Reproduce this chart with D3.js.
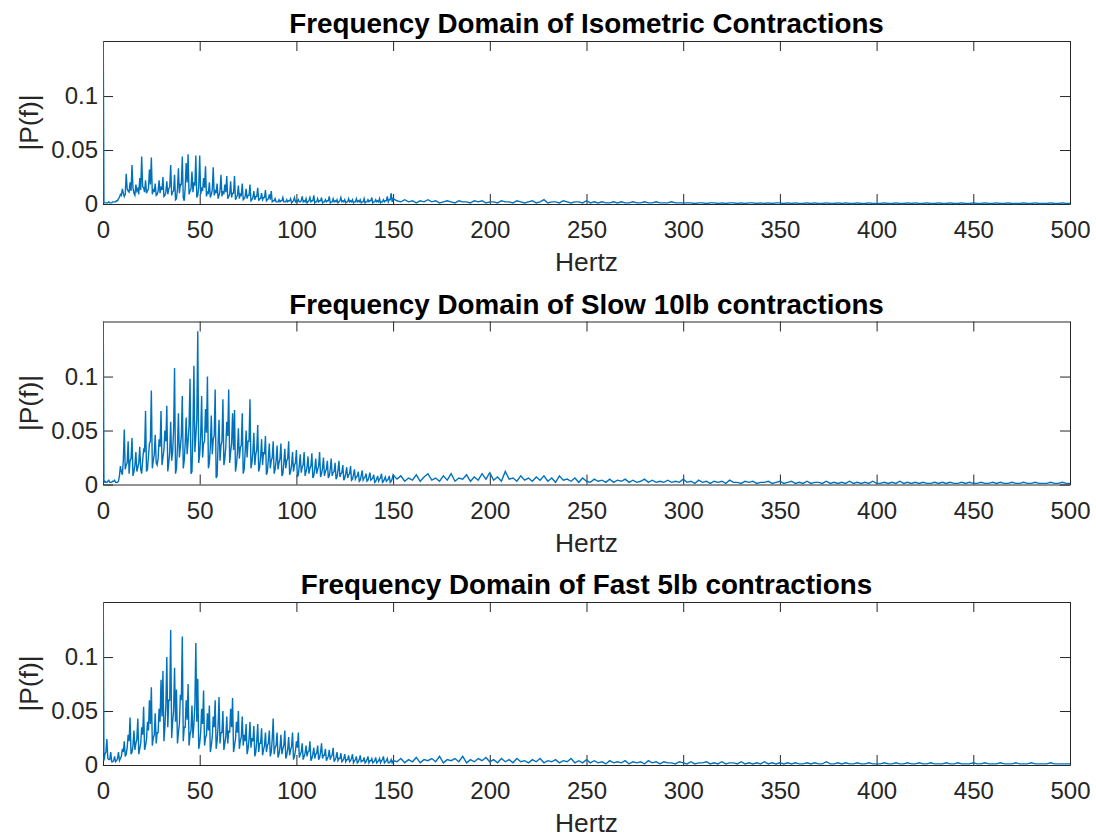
<!DOCTYPE html>
<html>
<head>
<meta charset="utf-8">
<script src="https://cdn.jsdelivr.net/npm/d3@7"></script>
<style>
  body { margin: 0; background: #fff; }
</style>
</head>
<body>
<script>

var width = 1096,
    height = 838;

// |P(f)|, in units of 0.001.
// *Peaks: value at every whole Hz from 0 to 150 Hz (first one is the DC spike, clipped)
// *Troughs: value at every half Hz in between (0.5 .. 149.5 Hz)
// *Tail: one value every 2 Hz from 152 to 500 Hz
var lowStep = 1,
    tailStart = 152,
    tailStep = 2;

var isoPeaks = [200,
    1,1,2,1,2,2,3,5,9,14,
    7,28,12,20,36,10,18,14,24,44,
    15,22,12,32,43,14,19,9,22,16,
    25,8,21,14,36,11,27,5,33,18,
    44,3,38,46,12,30,20,45,8,45,
    14,24,35,11,20,9,34,13,19,8,
    27,12,18,26,7,21,10,26,6,17,
    9,19,5,14,8,18,4,12,7,15,
    5,10,6,13,4,9,12,3,5,2,
    4,3,6,2,4,3,5,2,6,3,
    4,2,7,3,5,2,6,3,8,2,
    5,3,6,2,4,3,7,2,5,3,
    4,2,6,3,4,2,5,3,4,2,
    5,3,4,2,5,2,4,3,6,2,
    4,3,5,2,4,3,7,4,10,5];

var isoTroughs = [
    1,1,1,1,1,2,2,3,6,8,
    10,9,14,11,12,15,8,12,9,13,
    16,11,10,14,18,9,11,8,12,10,
    13,7,11,9,16,8,12,4,14,10,
    18,6,15,20,9,14,11,17,6,16,
    9,12,15,7,10,6,13,8,10,5,
    12,7,9,11,5,9,6,10,4,8,
    5,8,4,7,5,8,3,6,4,7,
    3,5,4,6,3,5,4,2,3,2,
    2,2,3,2,2,2,3,1,3,2,
    2,2,3,2,2,1,3,2,3,1,
    2,2,3,1,2,2,3,1,2,2,
    2,1,3,2,2,1,2,2,2,1,
    2,2,2,1,2,1,2,2,3,1,
    2,2,2,1,2,2,3,2,4,2];

var isoTail = [
    3,2,4,2,3,1,3,2,4,2,3,1,2,3,2,1,3,2,2,1,3,2,3,1,2,
    2,1,3,2,2,1,3,2,1,2,3,1,2,4,1,2,2,1,3,2,1,2,2,1,3,
    1,2,1,2,1,1,2,1,2,1,1,2,1,1,2,1,1,2,1,1,1,2,1,1,1,
    1,1,0.5,1,1,0.5,1,1,0.5,1,0.5,1,1,0.5,1,0.5,1,1,0.5,1,0.5,1,0.5,1,1,
    0.5,1,0.5,1,0.5,0.5,1,0.5,1,0.5,0.5,1,0.5,0.5,1,0.5,1,0.5,0.5,1,0.5,0.5,1,0.5,0.5,
    0.5,1,0.5,0.5,1,0.5,0.5,1,0.5,1,0.5,0.5,1,0.5,0.5,1,0.5,0.5,1,0.5,0.5,1,0.5,0.5,1,
    0.5,0.5,1,0.5,0.5,1,0.5,0.5,1,0.5,0.5,0.5,1,0.5,0.5,1,0.5,0.5,0.5,1,0.5,0.5,1,0.5,0.5];

var slowPeaks = [200,
    3,2,4,2,3,4,2,3,17,9,
    51,18,40,22,43,12,30,16,35,10,
    32,68,14,38,87,22,46,18,42,68,
    25,50,73,20,58,30,108,15,66,35,
    82,22,62,40,98,12,110,45,142,28,
    82,38,70,100,20,64,42,88,8,60,
    36,79,24,58,88,30,66,69,18,52,
    34,66,14,50,40,79,20,48,28,55,
    16,42,30,45,12,38,22,40,14,36,
    20,38,10,33,22,40,12,30,18,32,
    9,28,16,30,12,26,15,29,8,24,
    14,30,10,25,12,22,8,24,11,20,
    7,22,10,18,6,16,9,17,5,14,
    7,12,4,13,6,10,4,11,5,9,
    3,8,5,10,3,7,4,8,3,9];

var slowTroughs = [
    2,2,3,2,2,3,2,2,8,12,
    22,14,20,10,24,8,18,12,20,14,
    22,30,12,26,40,15,28,20,24,35,
    18,32,40,12,30,22,50,10,35,25,
    45,15,38,28,55,10,50,30,60,20,
    45,25,40,48,15,35,28,45,6,38,
    22,40,18,35,45,20,38,32,12,30,
    24,36,10,30,25,40,15,30,18,32,
    12,26,18,28,9,24,15,25,10,22,
    14,24,8,20,15,24,9,18,12,20,
    7,18,11,18,8,16,10,17,6,15,
    10,17,7,15,8,14,6,14,8,12,
    5,13,7,11,4,10,6,10,4,9,
    5,8,3,8,4,7,3,7,4,6,
    2,5,3,6,2,5,3,5,2,5];

var slowTail = [
    5,8,3,6,4,9,3,7,10,4,6,3,8,4,10,3,6,5,9,3,7,4,10,5,11,
    4,7,3,12,5,6,3,8,4,6,3,7,4,8,3,6,2,8,4,5,3,6,2,6,3,
    2,5,3,4,2,5,2,4,3,5,2,4,2,3,5,2,4,2,3,2,4,2,3,2,5,
    2,3,1,4,2,3,1,3,2,3,1,4,2,2,1,3,2,3,1,2,2,3,1,2,3,
    1,2,3,1,2,1,3,1,2,2,1,3,1,2,1,2,1,3,1,2,1,2,1,3,1,
    1,2,1,2,1,3,1,2,1,2,1,2,1,1,2,1,2,1,2,1,1,2,1,2,1,
    1,2,1,1,2,1,2,1,1,2,1,1,2,1,1,2,1,1,1,2,1,1,2,1,1];

var fastPeaks = [200,
    10,24,5,12,3,8,4,12,6,15,
    22,10,28,44,12,32,20,43,15,35,
    54,18,40,60,72,25,48,30,52,79,
    87,35,100,60,125,40,90,70,30,65,
    119,35,60,75,28,55,38,113,80,20,
    52,69,25,48,55,18,45,60,22,63,
    30,50,20,45,32,52,62,18,40,50,
    22,45,28,38,15,40,25,36,12,38,
    20,34,14,30,18,32,12,43,16,30,
    10,28,15,32,9,26,14,30,8,22,
    30,10,20,8,18,12,22,6,16,10,
    18,7,20,9,15,6,14,8,16,5,
    12,6,11,4,10,5,9,4,10,4,
    8,3,9,4,7,3,8,4,6,3,
    7,3,6,4,8,3,6,2,5,4];

var fastTroughs = [
    4,12,6,5,3,4,3,6,4,8,
    12,8,16,22,10,18,14,24,10,20,
    28,14,24,32,38,18,28,20,30,40,
    45,22,55,35,60,25,50,40,20,38,
    60,22,35,42,18,32,25,55,40,15,
    30,38,18,28,32,12,26,35,15,36,
    20,30,14,26,20,30,35,12,24,30,
    15,26,18,22,10,24,16,22,8,22,
    12,20,9,18,12,20,8,24,10,18,
    7,16,10,18,6,15,9,17,5,13,
    16,7,12,5,11,8,13,4,10,6,
    11,5,12,6,9,4,8,5,9,3,
    7,4,6,3,6,3,5,3,6,2,
    5,2,5,3,4,2,5,2,4,2,
    4,2,4,2,5,2,4,2,3,2];

var fastTail = [
    3,6,2,5,3,7,2,5,4,6,3,8,2,5,4,6,3,8,2,5,3,6,4,7,3,
    5,2,6,3,5,2,6,3,4,2,5,3,6,2,4,3,5,2,4,3,6,2,4,2,5,
    2,4,2,3,1,4,2,3,2,4,1,3,2,3,1,4,2,3,1,3,2,2,1,3,2,
    1,3,1,2,2,3,1,2,1,3,1,2,2,1,3,1,2,1,2,1,3,1,2,1,2,
    1,2,1,2,1,1,2,1,2,1,1,3,1,1,2,1,2,1,1,2,1,1,2,1,1,
    1,2,1,1,2,1,1,2,1,1,2,1,1,2,1,1,1,2,1,1,2,1,1,1,2,
    1,1,2,1,1,1,2,1,1,1,2,1,1,1,2,1,1,1,1,2,1,1,1,1,1];

var titles = ["Frequency Domain of Isometric Contractions",
              "Frequency Domain of Slow 10lb contractions",
              "Frequency Domain of Fast 5lb contractions"];

var xTicks = [0, 50, 100, 150, 200, 250, 300, 350, 400, 450, 500];
var yTicks = [0, 0.05, 0.1];
var xMax = 500,
    yMax = 0.151;

// layout (matches the MATLAB subplot positions)
var left = 103,
    right = 1070,
    plotH = 163,
    firstTop = 41,
    rowGap = 280.5;

var fontFamily = "'Liberation Sans', Arial, Helvetica, sans-serif",
    axisColor = "#262626",
    lineColor = "#0072BD";

var svg = d3.select("body").append("svg")
    .attr("width", width)
    .attr("height", height);

var x = d3.scaleLinear()
    .domain([0, xMax])
    .range([left, right]);

// merge peaks (whole Hz), troughs (half Hz) and the coarser tail into one series
function spectrum(peaks, troughs, tail) {
    var pts = [];
    peaks.forEach(function(v, i) {
        pts.push({f: i * lowStep, p: v / 1000});
        if (i < troughs.length)
            pts.push({f: i * lowStep + lowStep / 2, p: troughs[i] / 1000});
    });
    tail.forEach(function(v, i) {
        pts.push({f: tailStart + i * tailStep, p: v / 1000});
    });
    return pts;
}

var series = [spectrum(isoPeaks, isoTroughs, isoTail),
              spectrum(slowPeaks, slowTroughs, slowTail),
              spectrum(fastPeaks, fastTroughs, fastTail)];

series.forEach(function(data, i) {
    var top = firstTop + i * rowGap,
        bottom = top + plotH;

    var y = d3.scaleLinear()
        .domain([0, yMax])
        .range([bottom, top]);

    var g = svg.append("g");

    // clip so the DC spike stops at the top of the box
    svg.append("clipPath")
        .attr("id", "clip" + i)
        .append("rect")
        .attr("x", left)
        .attr("y", top)
        .attr("width", right - left)
        .attr("height", plotH + 1);

    // Axes: bottom/left with labels, top/right ticks only (box on)
    g.append("g")
        .attr("transform", "translate(0," + bottom + ")")
        .call(d3.axisBottom(x).tickValues(xTicks).tickSize(-10).tickSizeOuter(0).tickPadding(17));

    g.append("g")
        .attr("transform", "translate(0," + top + ")")
        .call(d3.axisTop(x).tickValues(xTicks).tickSize(-10).tickSizeOuter(0).tickFormat(""));

    g.append("g")
        .attr("transform", "translate(" + left + ",0)")
        .call(d3.axisLeft(y).tickValues(yTicks).tickSize(-10).tickSizeOuter(0).tickPadding(5)
            .tickFormat(function(d) { return d; }));

    g.append("g")
        .attr("transform", "translate(" + right + ",0)")
        .call(d3.axisRight(y).tickValues(yTicks).tickSize(-10).tickSizeOuter(0).tickFormat(""));

    g.selectAll(".domain, .tick line")
        .attr("stroke", axisColor)
        .attr("stroke-width", 1);

    g.selectAll(".tick text")
        .attr("fill", axisColor)
        .attr("font-size", 24)
        .attr("font-family", fontFamily);

    // the spectrum itself
    var line = d3.line()
        .x(function(d) { return x(d.f); })
        .y(function(d) { return y(d.p); });

    svg.append("path")
        .datum(data)
        .attr("clip-path", "url(#clip" + i + ")")
        .attr("fill", "none")
        .attr("stroke", lineColor)
        .attr("stroke-width", 1.4)
        .attr("d", line);

    // Title and axis labels
    svg.append("text")
        .attr("x", (left + right) / 2)
        .attr("y", top - 8)
        .attr("text-anchor", "middle")
        .attr("font-family", fontFamily)
        .attr("font-weight", "bold")
        .attr("font-size", 27.8)
        .attr("fill", "#000")
        .text(titles[i]);

    svg.append("text")
        .attr("x", (left + right) / 2)
        .attr("y", bottom + 67)
        .attr("text-anchor", "middle")
        .attr("font-family", fontFamily)
        .attr("font-size", 26.4)
        .attr("fill", axisColor)
        .text("Hertz");

    svg.append("text")
        .attr("transform", "translate(38," + (top + plotH / 2) + ") rotate(-90)")
        .attr("text-anchor", "middle")
        .attr("font-family", fontFamily)
        .attr("font-size", 26.4)
        .attr("fill", axisColor)
        .text("|P(f)|");
});

</script>
</body>
</html>
